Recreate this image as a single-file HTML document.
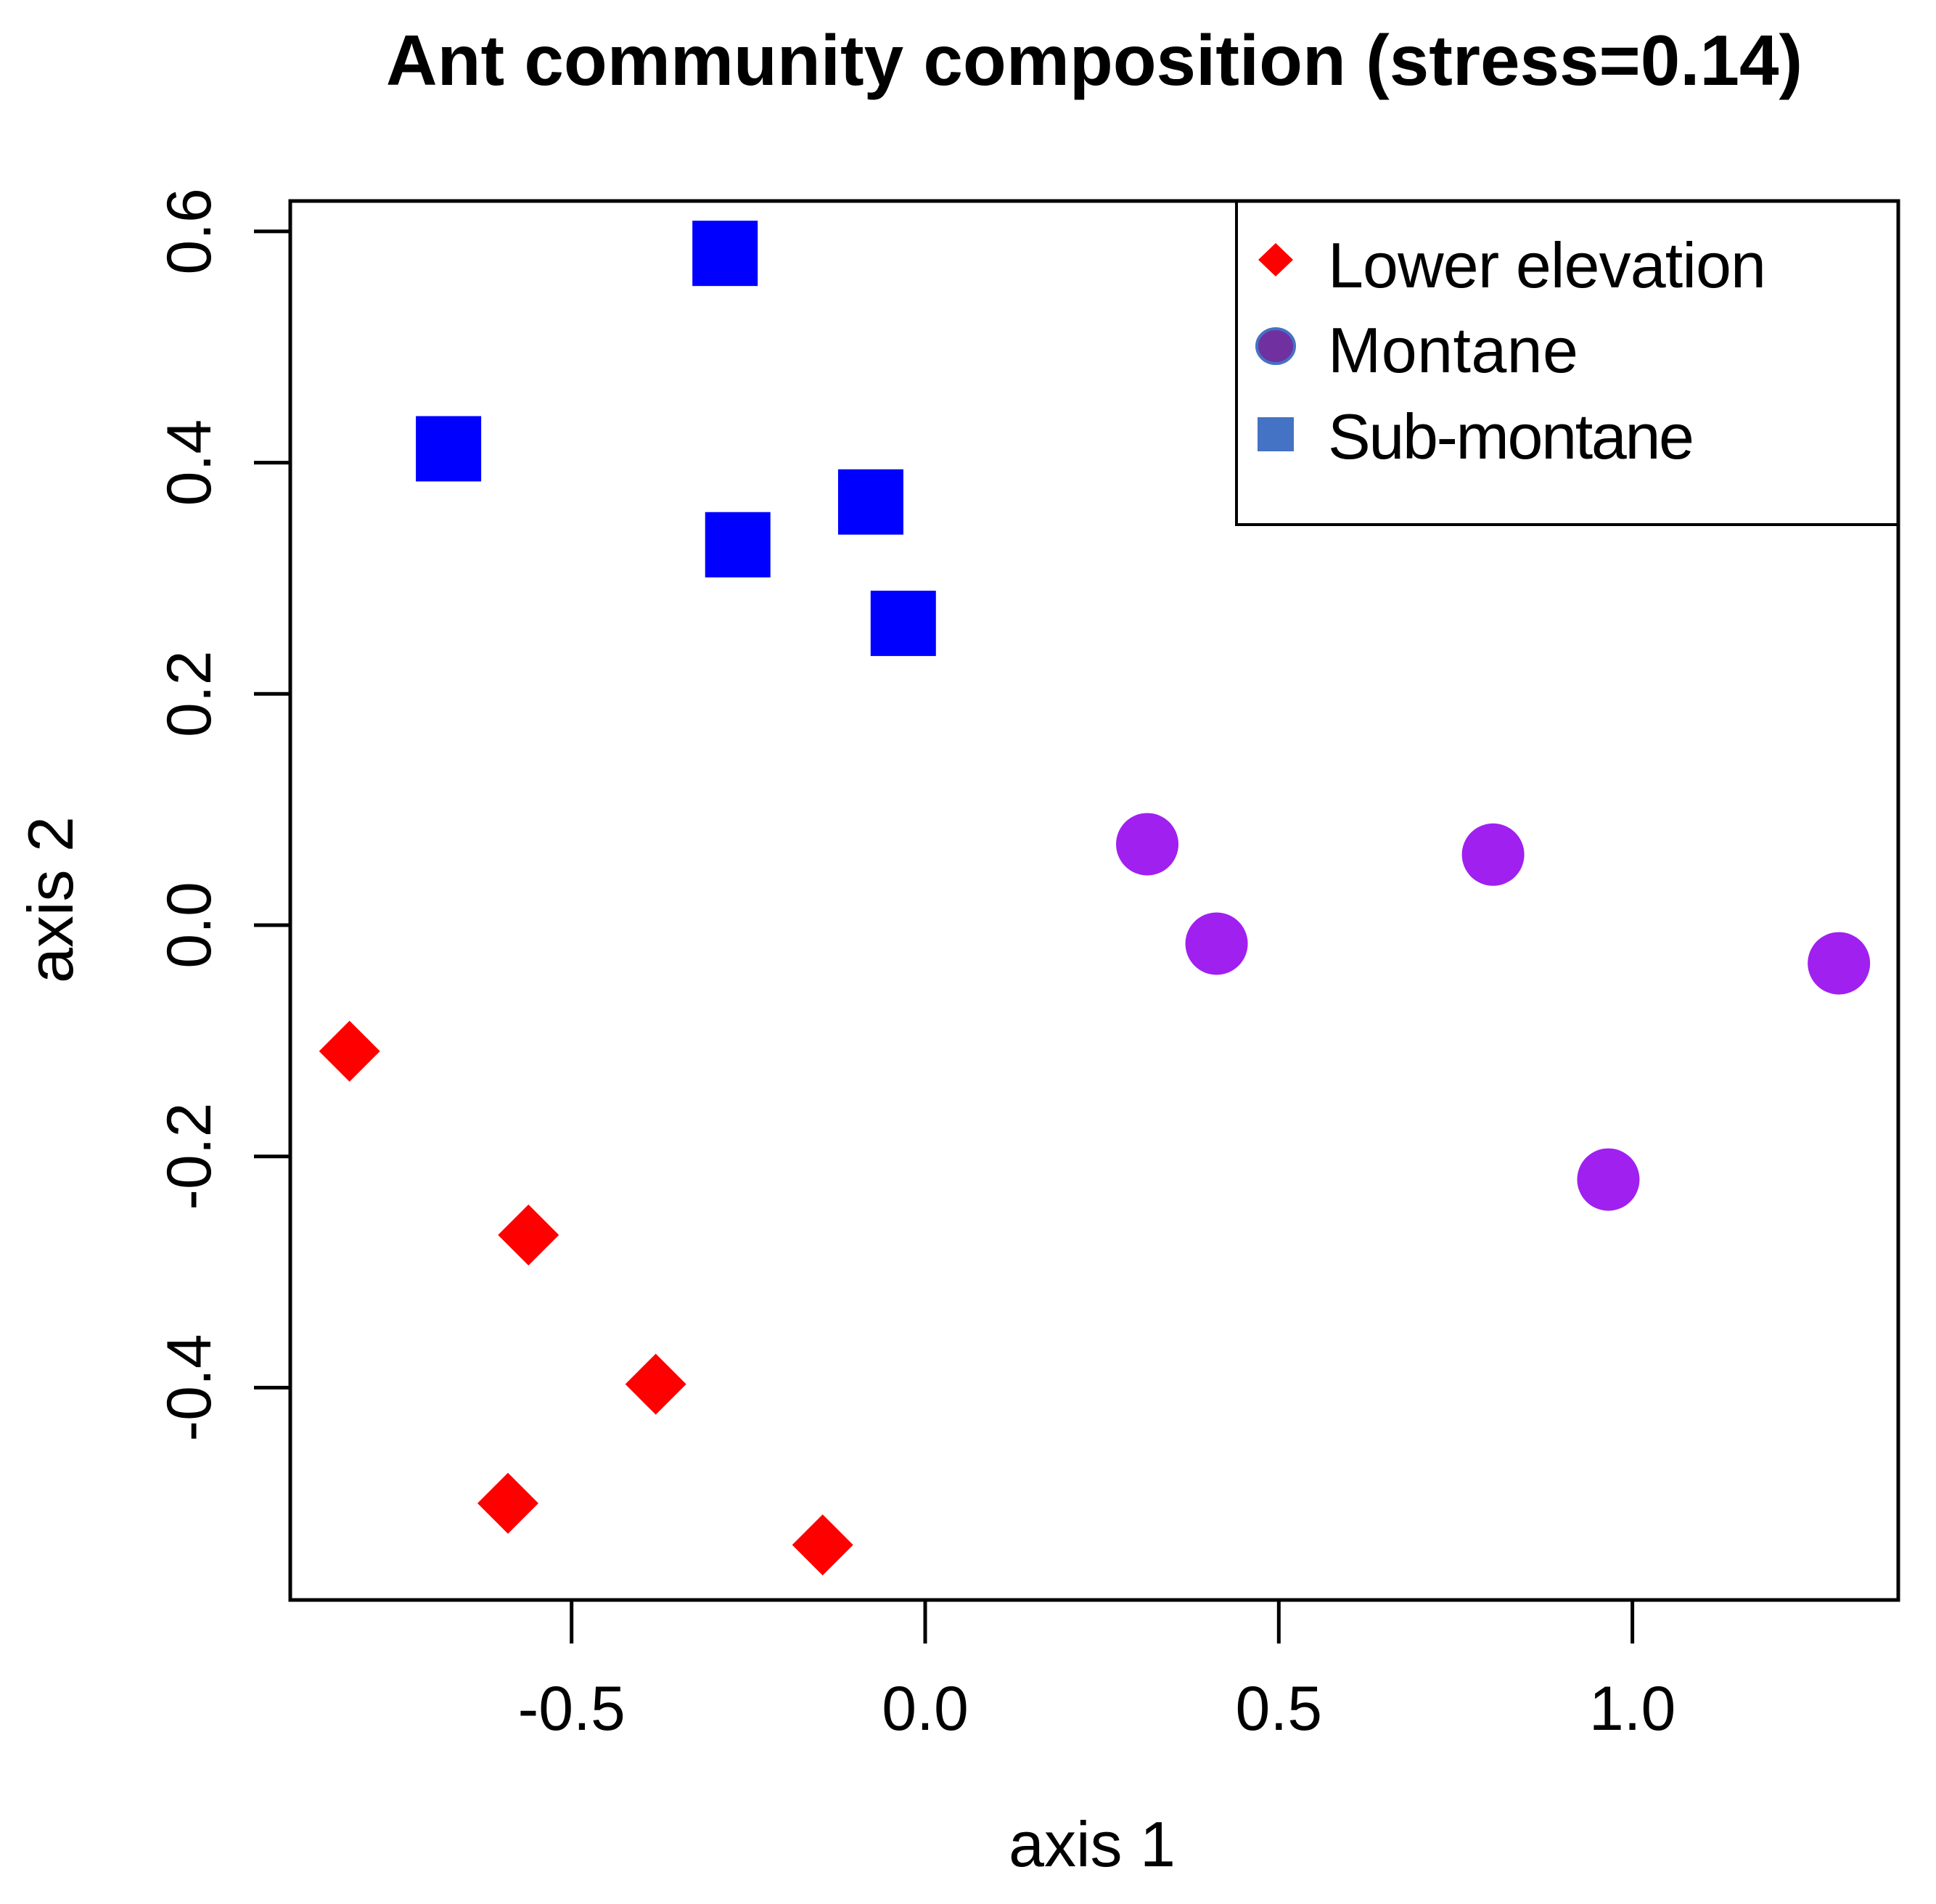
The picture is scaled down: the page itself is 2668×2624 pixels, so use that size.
<!DOCTYPE html>
<html><head><meta charset="utf-8"><style>
html,body{margin:0;padding:0;background:#fff;}
svg{display:block;}
text{font-family:"Liberation Sans",sans-serif;fill:#000;}
</style></head><body>
<svg id="chart" width="2668" height="2624" viewBox="0 0 2668 2624" xmlns="http://www.w3.org/2000/svg">
<text x="1508" y="117" font-size="98" font-weight="bold" text-anchor="middle">Ant community composition (stress=0.14)</text>
<rect x="400" y="277" width="2216" height="1928" fill="none" stroke="#000" stroke-width="5"/>
<g id="xticks"></g>
<g id="yticks"></g>
<text x="1505" y="2572" font-size="88" text-anchor="middle">axis 1</text>
<text transform="translate(100,1240) rotate(-90)" font-size="88" text-anchor="middle">axis 2</text>
<g id="points"></g>
<g>
<path d="M1704 277 V723 H2616" fill="none" stroke="#000" stroke-width="4"/>
<polygon points="1758,335 1782,358 1758,381 1734,358" fill="#ff0000"/>
<text x="1830" y="396" font-size="88" textLength="604">Lower elevation</text>
<ellipse cx="1758" cy="477" rx="26" ry="24" fill="#7030a0" stroke="#4472c4" stroke-width="4"/>
<rect x="1733" y="575" width="50" height="47" fill="#4472c4"/>
<text x="1830" y="513" font-size="88" textLength="345">Montane</text>
<text x="1830" y="632" font-size="88" textLength="505">Sub-montane</text>
</g>
</svg>
<script>
const xTicks=[-0.5,0.0,0.5,1.0];
const xTickLabels=["-0.5","0.0","0.5","1.0"];
const yTicks=[0.6,0.4,0.2,0.0,-0.2,-0.4];
const yTickLabels=["0.6","0.4","0.2","0.0","-0.2","-0.4"];
const subX=[-0.283,-0.674,-0.077,-0.265,-0.031];
const subY=[0.581,0.412,0.366,0.329,0.261];
const monX=[0.314,0.412,0.803,1.292,0.966];
const monY=[0.070,-0.016,0.061,-0.033,-0.220];
const lowX=[-0.814,-0.561,-0.381,-0.590,-0.145];
const lowY=[-0.109,-0.268,-0.397,-0.500,-0.536];

const NS="http://www.w3.org/2000/svg";
function sx(v){return 1275+v*974.6;}
function sy(v){return 1275-v*1593.5;}
function mk(tag,attrs,parent){const e=document.createElementNS(NS,tag);for(const k in attrs)e.setAttribute(k,attrs[k]);parent.appendChild(e);return e;}
const gx=document.getElementById('xticks'),gy=document.getElementById('yticks'),gp=document.getElementById('points');
xTicks.forEach((t,i)=>{
 const l=mk('line',{x1:sx(t),x2:sx(t),y1:2205,y2:2265,stroke:'#000','stroke-width':5},gx);
 
 
 const tx=mk('text',{x:sx(t),y:2384,'font-size':86,'text-anchor':'middle'},gx);
 tx.textContent=xTickLabels[i];
 
 
});
yTicks.forEach((t,i)=>{
 const l=mk('line',{x1:350,x2:400,y1:sy(t),y2:sy(t),stroke:'#000','stroke-width':5},gy);
 
 
 const tx=mk('text',{transform:`translate(290,${sy(t)}) rotate(-90)`,'font-size':86,'text-anchor':'middle'},gy);
 tx.textContent=yTickLabels[i];
 
 
});
subX.forEach((v,i)=>{
 const r=mk('rect',{x:sx(v)-45,y:sy(subY[i])-45,width:90,height:90,fill:'#0000ff'},gp);
 
 
});
monX.forEach((v,i)=>{
 const c=mk('circle',{cx:sx(v),cy:sy(monY[i]),r:43,fill:'#a020f0'},gp);
 
 
});
lowX.forEach((v,i)=>{
 const x=sx(v),y=sy(lowY[i]),d=42;
 const p=mk('polygon',{points:`${x},${y-d} ${x+d},${y} ${x},${y+d} ${x-d},${y}`,fill:'#ff0000'},gp);
 
 
});
</script>
</body></html>
